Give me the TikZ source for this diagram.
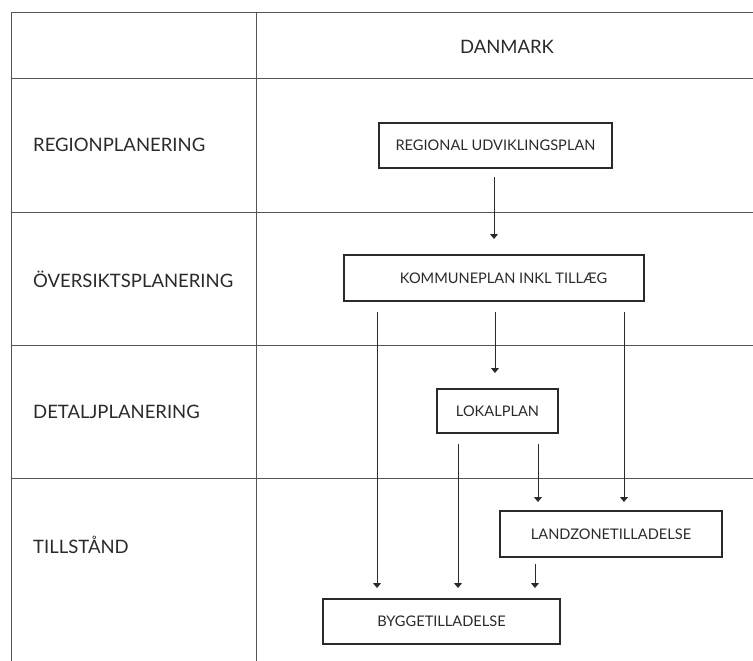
\documentclass[tikz,border=0pt]{standalone}
\usepackage{fontspec}
\setmainfont{Lato}
\usetikzlibrary{arrows.meta}
\definecolor{gridc}{HTML}{555555}
\definecolor{boxc}{HTML}{2A2A2A}
\tikzset{
  grid/.style={draw=gridc, line width=1pt},
  rowlabel/.style={anchor=west, inner sep=0pt, font=\fontsize{18.5}{20}\selectfont, text=boxc},
  planbox/.style={draw=boxc, line width=1.8pt, inner sep=0pt, font=\fontsize{14.6}{16}\selectfont, text=boxc},
  flow/.style={draw=boxc, line width=0.9pt, -{Triangle[width=8pt,length=5pt]}},
}
\begin{document}
\begin{tikzpicture}[x=1pt,y=-1pt]
\useasboundingbox (0,0) rectangle (753,661);
% grid
\draw[grid] (753,13) -- (11,13) -- (11,661);
\draw[grid] (256,13) -- (256,661);
\foreach \yy in {79,212,345,478} \draw[grid] (11,\yy) -- (753,\yy);
% labels
\node[inner sep=0pt, font=\fontsize{18.5}{20}\selectfont, text=boxc] (dk) at (507,47) {DANMARK};
\node[rowlabel] (l1) at (33,145) {REGIONPLANERING};
\node[rowlabel] (l2) at (33,279) {ÖVERSIKTSPLANERING};
\node[rowlabel] (l3) at (33,412) {DETALJPLANERING};
\node[rowlabel] (l4) at (33,545) {TILLSTÅND};
% boxes
\node[planbox, minimum width=233pt, minimum height=45pt] (rup) at (495.5,145.5) {REGIONAL UDVIKLINGSPLAN};
\node[planbox, minimum width=300pt, minimum height=46pt] (kp) at (494,278) {\hspace*{19pt}KOMMUNEPLAN INKL TILLÆG};
\node[planbox, minimum width=121pt, minimum height=44pt] (lp) at (497.5,411) {LOKALPLAN};
\node[planbox, minimum width=222pt, minimum height=46pt] (lz) at (611,534) {LANDZONETILLADELSE};
\node[planbox, minimum width=237pt, minimum height=45pt] (bt) at (441.5,621.5) {BYGGETILLADELSE};
% connectors
\coordinate (a1s) at (494,177); \coordinate (a1e) at (494,239);
\draw[flow] (a1s) -- (a1e);
\coordinate (k1s) at (377,312); \coordinate (k1e) at (377,588);
\coordinate (k2s) at (495,312); \coordinate (k2e) at (495,373);
\coordinate (k3s) at (624,312); \coordinate (k3e) at (624,502);
\draw[flow] (k1s) -- (k1e);
\draw[flow] (k2s) -- (k2e);
\draw[flow] (k3s) -- (k3e);
\coordinate (p1s) at (458,444); \coordinate (p1e) at (458,588);
\coordinate (p2s) at (538,444); \coordinate (p2e) at (538,502);
\draw[flow] (p1s) -- (p1e);
\draw[flow] (p2s) -- (p2e);
\coordinate (z1s) at (535,564); \coordinate (z1e) at (535,588);
\draw[flow] (z1s) -- (z1e);
\end{tikzpicture}
\end{document}
